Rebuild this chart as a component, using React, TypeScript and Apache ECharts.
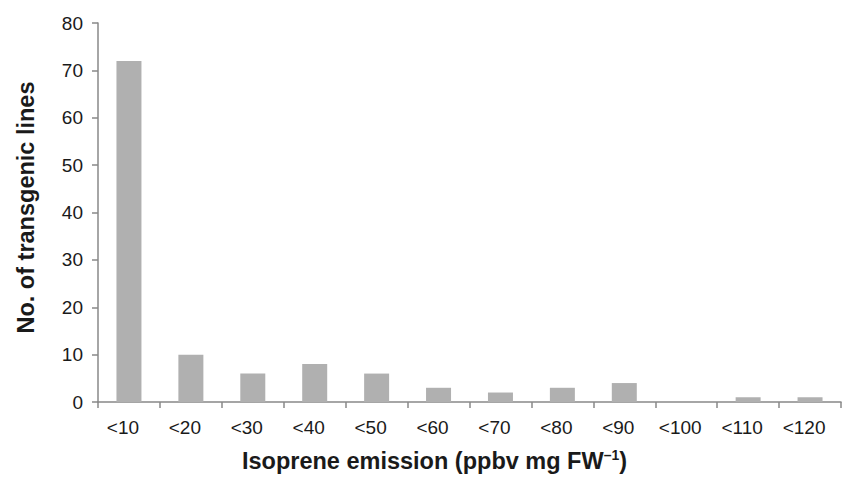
import React, { useEffect, useRef } from "react";
import * as echarts from "echarts";

const categories = ["<10", "<20", "<30", "<40", "<50", "<60", "<70", "<80", "<90", "<100", "<110", "<120"];
const counts = [72, 10, 6, 8, 6, 3, 2, 3, 4, 0, 1, 1];
const yTicks = [0, 10, 20, 30, 40, 50, 60, 70, 80];

export default function App() {
  const ref = useRef<HTMLDivElement>(null);
  useEffect(() => {
    if (!ref.current) return;
    const chart = echarts.init(ref.current, null, { renderer: "svg" });
    const font = "Liberation Sans, Arial, sans-serif";
    chart.setOption({
      animation: false,
      backgroundColor: "#ffffff",
      grid: { left: 98, right: 2, top: 23, bottom: 78, containLabel: false, outerBoundsMode: "none" },
      xAxis: {
        type: "category",
        data: categories,
        axisLine: { lineStyle: { color: "#888888", width: 1.5 } },
        axisTick: { show: true, length: 6, alignWithLabel: false, lineStyle: { color: "#888888", width: 1.5 } },
        axisLabel: { color: "#1a1a1a", fontSize: 19, fontFamily: font, margin: 16, interval: 0, padding: [0, 12, 0, 0] },
        name: "{a|Isoprene emission (ppbv mg FW}{s|\u20131}{a|)}",
        nameLocation: "middle",
        nameGap: 46,
        nameTextStyle: {
          padding: [0, 70, 0, 0],
          rich: {
            a: { fontSize: 23.5, fontWeight: "bold", fontFamily: font, color: "#1a1a1a" },
            s: { fontSize: 14, fontWeight: "bold", fontFamily: font, color: "#1a1a1a", verticalAlign: "top", padding: [0, 0, 11, 0] },
          },
        },
      },
      yAxis: {
        type: "value",
        min: yTicks[0],
        max: yTicks[yTicks.length - 1],
        interval: 10,
        axisLine: { show: true, lineStyle: { color: "#888888", width: 1.5 } },
        axisTick: { show: true, length: 6, lineStyle: { color: "#888888", width: 1.5 } },
        splitLine: { show: false },
        axisLabel: { color: "#1a1a1a", fontSize: 19, fontFamily: font, margin: 15 },
        name: "No. of transgenic lines",
        nameLocation: "middle",
        nameGap: 60,
        nameTextStyle: { fontSize: 23.5, fontWeight: "bold", fontFamily: font, color: "#1a1a1a", padding: [0, 0, 0, 10] },
      },
      series: [
        {
          type: "bar",
          data: counts,
          barWidth: 25,
          itemStyle: { color: "#b0b0b0" },
        },
      ],
    });
    return () => chart.dispose();
  }, []);
  return <div ref={ref} style={{ width: 843, height: 480, position: "absolute", left: 0, top: 0 }} />;
}
